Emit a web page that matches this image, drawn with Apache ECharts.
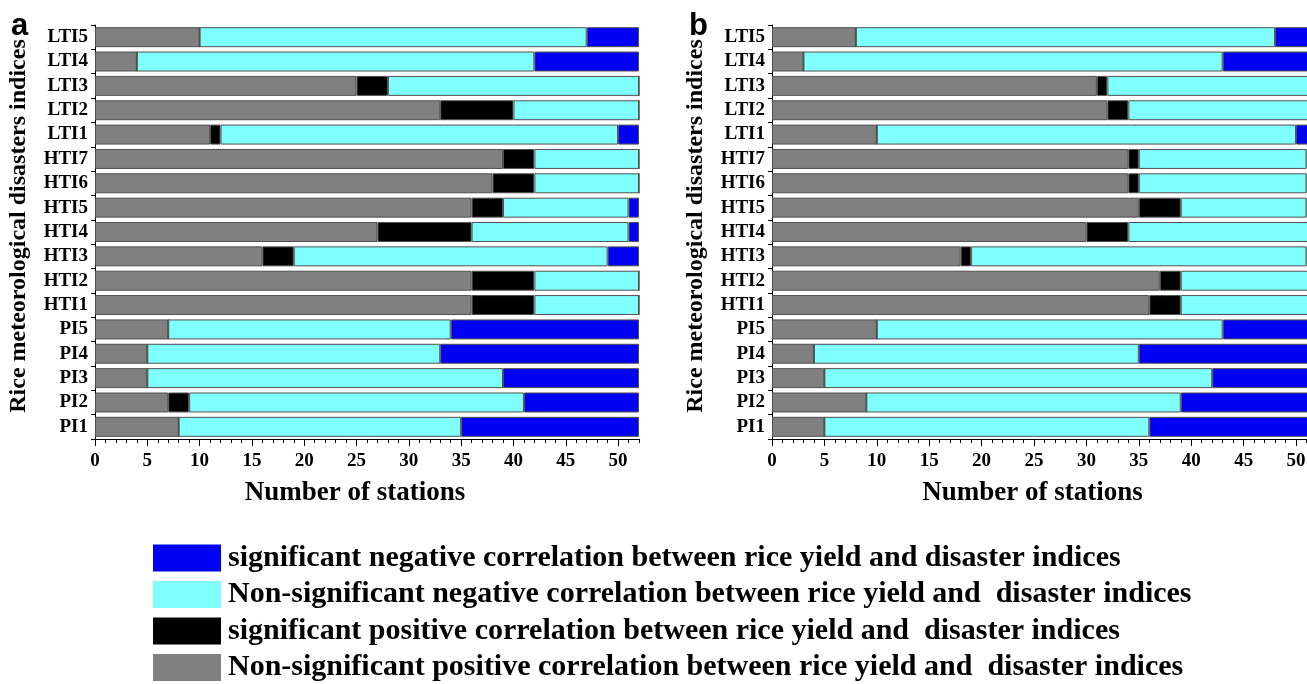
<!DOCTYPE html>
<html>
<head>
<meta charset="utf-8">
<script src="https://cdn.jsdelivr.net/npm/echarts@6/dist/echarts.min.js"></script>
<style>
  html, body { margin: 0; padding: 0; background: #fff; }
  #main { width: 1307px; height: 684px; }
</style>
</head>
<body>
<div id="main"></div>
<script>
// categories, top to bottom
var categories = ['LTI5', 'LTI4', 'LTI3', 'LTI2', 'LTI1', 'HTI7', 'HTI6', 'HTI5', 'HTI4',
  'HTI3', 'HTI2', 'HTI1', 'PI5', 'PI4', 'PI3', 'PI2', 'PI1'];

var seriesNames = [
  'Non-significant positive correlation between rice yield and  disaster indices',
  'significant positive correlation between rice yield and  disaster indices',
  'Non-significant negative correlation between rice yield and  disaster indices',
  'significant negative correlation between rice yield and disaster indices'
];

// panel a (number of stations)
var aNonSigPos = [10, 4, 25, 33, 11, 39, 38, 36, 27, 16, 36, 36, 7, 5, 5, 7, 8];
var aSigPos    = [0, 0, 3, 7, 1, 3, 4, 3, 9, 3, 6, 6, 0, 0, 0, 2, 0];
var aNonSigNeg = [37, 38, 24, 12, 38, 10, 10, 12, 15, 30, 10, 10, 27, 28, 34, 32, 27];
var aSigNeg    = [5, 10, 0, 0, 2, 0, 0, 1, 1, 3, 0, 0, 18, 19, 13, 11, 17];

// panel b
var bNonSigPos = [8, 3, 31, 32, 10, 34, 34, 35, 30, 18, 37, 36, 10, 4, 5, 9, 5];
var bSigPos    = [0, 0, 1, 2, 0, 1, 1, 4, 4, 1, 2, 3, 0, 0, 0, 0, 0];
var bNonSigNeg = [40, 40, 20, 18, 40, 16, 16, 12, 18, 32, 13, 13, 33, 31, 37, 30, 31];
var bSigNeg    = [4, 9, 0, 0, 2, 1, 1, 1, 0, 1, 0, 0, 9, 17, 10, 13, 16];

var majorTicks = [0, 5, 10, 15, 20, 25, 30, 35, 40, 45, 50];
var xMax = 52;

var colors = ['#808080', '#000000', '#80ffff', '#0000f4'];
var serif = 'Liberation Serif';

var minorTicks = [];
for (var i = 1; i <= xMax; i++) {
  if (i % 5 !== 0) minorTicks.push(i);
}

function xAxes(gi) {
  return [{
    type: 'value', gridIndex: gi, min: 0, max: xMax, position: 'bottom',
    name: 'Number of stations', nameLocation: 'middle', nameGap: 41,
    nameTextStyle: { fontFamily: serif, fontWeight: 'bold', fontSize: 27, color: '#000', padding: [0, 24, 0, 0] },
    axisLine: { show: true, lineStyle: { color: '#000', width: 1 } },
    axisTick: { show: true, length: 7, customValues: majorTicks, lineStyle: { color: '#000' } },
    axisLabel: { customValues: majorTicks, margin: 13, fontFamily: serif, fontWeight: 'bold', fontSize: 19, color: '#000' },
    splitLine: { show: false }
  }, {
    type: 'value', gridIndex: gi, min: 0, max: xMax, position: 'bottom',
    axisLine: { show: false },
    axisTick: { show: true, length: 4, customValues: minorTicks, lineStyle: { color: '#000' } },
    axisLabel: { show: false },
    splitLine: { show: false }
  }];
}

function yAxis(gi) {
  return {
    type: 'category', gridIndex: gi, data: categories, inverse: true,
    name: 'Rice meteorological disasters indices', nameLocation: 'middle', nameGap: 64, nameRotate: 90,
    nameTextStyle: { fontFamily: serif, fontWeight: 'bold', fontSize: 24, color: '#000', padding: [0, 0, 0, 12] },
    axisLine: { show: true, lineStyle: { color: '#000', width: 1 } },
    axisTick: { show: true, length: 4, lineStyle: { color: '#000' } },
    axisLabel: { interval: 0, margin: 7, fontFamily: serif, fontWeight: 'bold', fontSize: 19, color: '#000' }
  };
}

function panelSeries(gi, stack, lists) {
  return lists.map(function (d, k) {
    return {
      name: seriesNames[k], type: 'bar', stack: stack,
      xAxisIndex: gi * 2, yAxisIndex: gi,
      barCategoryGap: '18%',
      itemStyle: { color: colors[k], borderColor: '#505050', borderWidth: 1 },
      data: d
    };
  });
}

var chart = echarts.init(document.getElementById('main'));
chart.setOption({
  animation: false,
  backgroundColor: '#fff',
  grid: [
    { left: 95, width: 544, top: 25, height: 414, outerBoundsMode: 'none' },
    { left: 772, width: 545, top: 25, height: 414, outerBoundsMode: 'none' }
  ],
  xAxis: xAxes(0).concat(xAxes(1)),
  yAxis: [yAxis(0), yAxis(1)],
  legend: {
    orient: 'vertical', left: 153, top: 543, height: 170, padding: 0,
    itemWidth: 68, itemHeight: 27, itemGap: 6.5,
    icon: 'rect',
    itemStyle: { borderWidth: 0 },
    data: [seriesNames[3], seriesNames[2], seriesNames[1], seriesNames[0]],
    textStyle: { fontFamily: serif, fontWeight: 'bold', fontSize: 30, lineHeight: 27, color: '#000', padding: [0, 0, 0, 2] }
  },
  graphic: [
    { type: 'text', left: 11, top: 11, style: { text: 'a', fontFamily: 'Liberation Sans', fontWeight: 'bold', fontSize: 31, fill: '#000' } },
    { type: 'text', left: 689, top: 11, style: { text: 'b', fontFamily: 'Liberation Sans', fontWeight: 'bold', fontSize: 31, fill: '#000' } }
  ],
  series: panelSeries(0, 'a', [aNonSigPos, aSigPos, aNonSigNeg, aSigNeg])
    .concat(panelSeries(1, 'b', [bNonSigPos, bSigPos, bNonSigNeg, bSigNeg]))
});
</script>
</body>
</html>
